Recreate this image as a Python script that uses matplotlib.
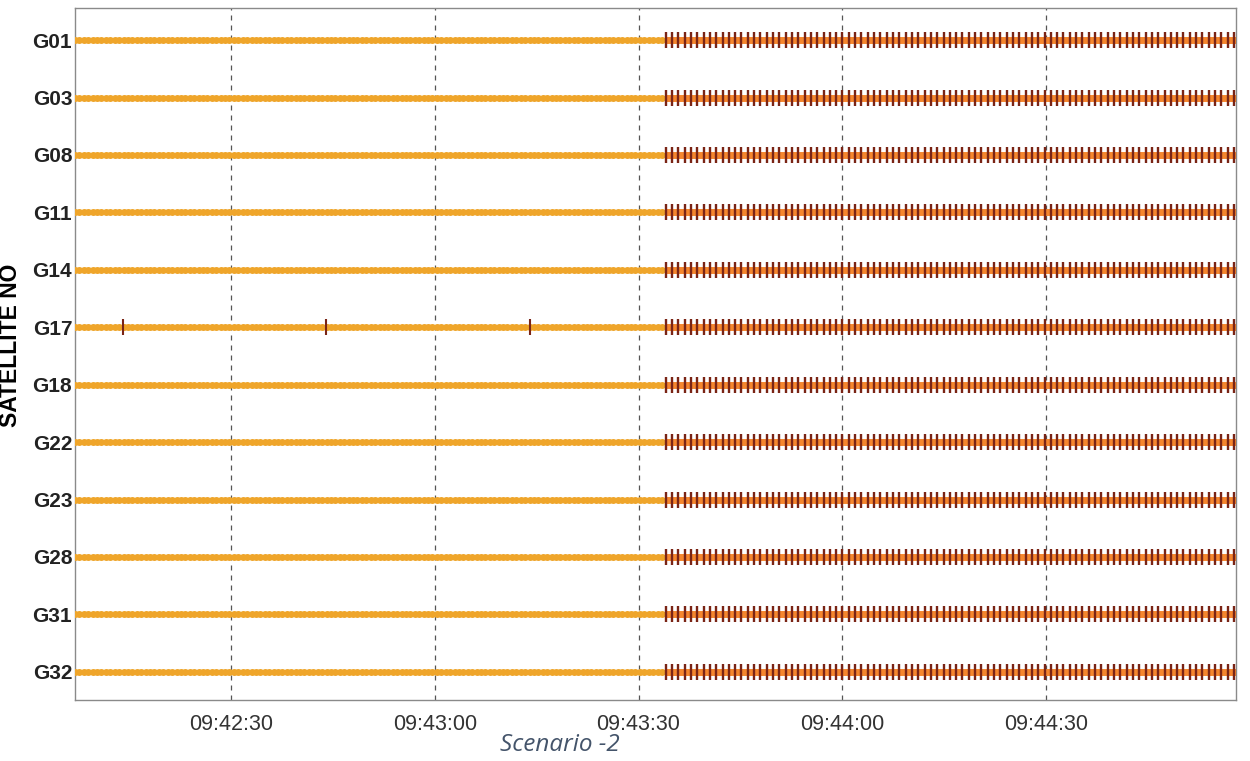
#!/usr/bin/env python3
"""Satellite cycle-slip timeline, scenario 2."""

from datetime import datetime, timedelta

import matplotlib
matplotlib.use("Agg")
import matplotlib.dates as mdates
import matplotlib.pyplot as plt
import numpy as np


SATELLITES = ["G01", "G03", "G08", "G11", "G14", "G17",
              "G18", "G22", "G23", "G28", "G31", "G32"]

DAY = datetime(2020, 1, 1)
T_START = DAY + timedelta(hours=9, minutes=42, seconds=7)
T_END = DAY + timedelta(hours=9, minutes=44, seconds=58)
T_SLIP_START = DAY + timedelta(hours=9, minutes=43, seconds=34)  # continuous slips from here
EPOCH_S = 0.65            # tracked epoch spacing (s)
SLIP_EPOCH_S = 0.93       # slip flag spacing (s)

# isolated slips on G17 before the continuous part
G17_SLIPS = ["09:42:14", "09:42:44", "09:43:14"]

TICKS = ["09:42:30", "09:43:00", "09:43:30", "09:44:00", "09:44:30"]

YELLOW = "#F0B035"
ORANGE = "#F5862E"
DARK_RED = "#7A2415"

plt.rcParams["font.family"] = ["Liberation Sans", "DejaVu Sans"]


def at(hms: str) -> datetime:
    h, m, s = (int(v) for v in hms.split(":"))
    return DAY + timedelta(hours=h, minutes=m, seconds=s)


def time_range(t0: datetime, t1: datetime, step: float) -> list[datetime]:
    n = int((t1 - t0).total_seconds() / step) + 1
    return [t0 + timedelta(seconds=step * i) for i in range(n)]


def main() -> None:
    fig = plt.figure(figsize=(12.5, 7.61), dpi=100)
    ax = fig.add_axes([0.06, 0.0802, 0.9288, 0.9093])

    good_t = mdates.date2num(time_range(T_START, T_SLIP_START, EPOCH_S))
    slip_line_t = mdates.date2num([T_SLIP_START, T_END])
    slip_t = mdates.date2num(time_range(T_SLIP_START, T_END, SLIP_EPOCH_S))

    for i, sat in enumerate(SATELLITES):
        ax.plot(good_t, np.full(len(good_t), i), color=YELLOW, linewidth=3.8,
                solid_capstyle="butt", zorder=3)
        ax.plot(good_t, np.full(len(good_t), i), linestyle="none", marker="o",
                markersize=5, color="#EFA52A", markeredgewidth=0, zorder=3)
        ax.plot(slip_line_t, [i, i], color=ORANGE, linewidth=5,
                solid_capstyle="butt", zorder=3)
        ax.plot(slip_t, np.full(len(slip_t), i), linestyle="none", marker="|",
                markersize=12, markeredgewidth=1.7, color=DARK_RED, zorder=4)
        if sat == "G17":
            iso = mdates.date2num([at(s) for s in G17_SLIPS])
            ax.plot(iso, np.full(len(iso), i), linestyle="none", marker="|",
                    markersize=12, markeredgewidth=1.5, color=DARK_RED, zorder=4)

    ax.set_xlim(mdates.date2num(T_START), mdates.date2num(T_END))
    ax.set_ylim(len(SATELLITES) - 0.51, -0.56)
    ax.set_yticks(range(len(SATELLITES)))
    ax.set_yticklabels(SATELLITES, fontweight="bold", fontsize=15, color="#222222")
    ax.set_xticks(mdates.date2num([at(s) for s in TICKS]))
    ax.xaxis.set_major_formatter(mdates.DateFormatter("%H:%M:%S"))
    ax.tick_params(axis="x", length=0, pad=10, labelsize=15.5, labelcolor="#333333")
    ax.tick_params(axis="y", length=0, pad=2)
    ax.grid(axis="x", linestyle=(0, (4, 4)), linewidth=0.9, color="#555555", zorder=1)
    for side in ax.spines.values():
        side.set_color("#8a8a8a")
        side.set_linewidth(1.0)

    ax.set_ylabel("SATELLITE NO", fontweight="bold", fontsize=16.5, labelpad=1)
    ax.yaxis.set_label_coords(-0.0455, 0.513)

    fig.text(0.448, 0.021, "Scenario -2", style="italic", fontsize=17.5,
             color="#44546A", family="Open Sans", ha="center", va="center")

    fig.savefig("out.png", dpi=100)


if __name__ == "__main__":
    main()
